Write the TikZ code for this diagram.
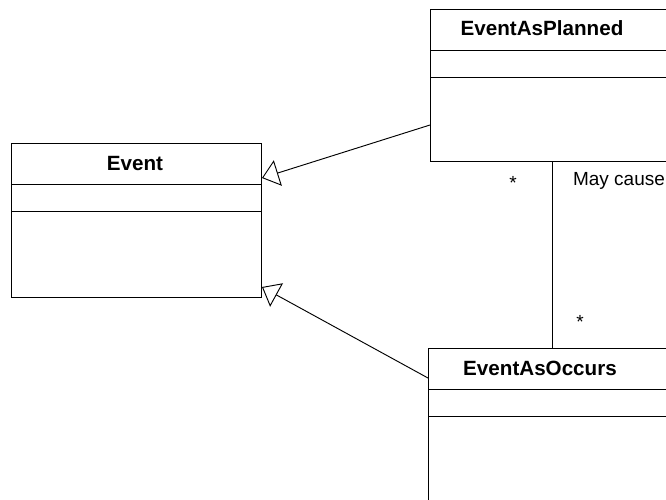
\documentclass[tikz,border=0pt]{standalone}
\usepackage{fontspec}
\setmainfont{Liberation Sans}
\usepackage{tikz}
\usetikzlibrary{arrows.meta, positioning, calc}

\begin{document}
\begin{tikzpicture}[
    x=0.03cm, y=-0.03cm,
    classbox/.style={rectangle, draw=black, line width=0.8pt, fill=white, anchor=north west, inner sep=0pt},
    classtitle/.style={font=\fontsize{17.6}{20}\selectfont\bfseries, inner sep=0pt},
    sepline/.style={line width=0.8pt},
    gen/.style={-{Triangle[open, length=0.5cm, width=0.8cm]}, line width=0.8pt},
    assoc/.style={line width=0.8pt},
    mult/.style={font=\fontsize{16.2}{19}\selectfont, inner sep=0pt}
]
\useasboundingbox (0,0) rectangle (666,499);
\clip (0,0) rectangle (666,499);

% Classes
\node[classbox, minimum width=7.5cm, minimum height=4.62cm] (event) at (11,143) {};
\node[classbox, minimum width=8.1cm, minimum height=4.56cm] (planned) at (430,9) {};
\node[classbox, minimum width=8.1cm, minimum height=5.4cm] (occurs) at (428,348) {};

% Titles
\node[classtitle] (event_t) at (135,164) {Event};
\node[classtitle] (planned_t) at (542,28) {EventAsPlanned};
\node[classtitle] (occurs_t) at (540,368) {EventAsOccurs};

% Compartments
\draw[sepline] ([yshift=-1.23cm]event.north west) -- ([yshift=-1.23cm]event.north east);
\draw[sepline] ([yshift=-2.04cm]event.north west) -- ([yshift=-2.04cm]event.north east);
\draw[sepline] ([yshift=-1.23cm]planned.north west) -- ([yshift=-1.23cm]planned.north east);
\draw[sepline] ([yshift=-2.04cm]planned.north west) -- ([yshift=-2.04cm]planned.north east);
\draw[sepline] ([yshift=-1.23cm]occurs.north west) -- ([yshift=-1.23cm]occurs.north east);
\draw[sepline] ([yshift=-2.04cm]occurs.north west) -- ([yshift=-2.04cm]occurs.north east);

% Generalizations
\draw[gen] ([yshift=-3.48cm]planned.north west) -- ([yshift=-1.05cm]event.north east);
\draw[gen] ([yshift=-0.9cm]occurs.north west) -- ([yshift=-4.32cm]event.north east);

% Association
\draw[assoc] ([xshift=3.66cm]planned.south west) -- ([xshift=3.66cm]planned.south west |- occurs.north);
\node[mult] (m_top) at (513,183) {*};
\node[mult] (m_bot) at (580,322) {*};
\node[mult] (cause) at (619,181) {May cause};

\end{tikzpicture}
\end{document}
